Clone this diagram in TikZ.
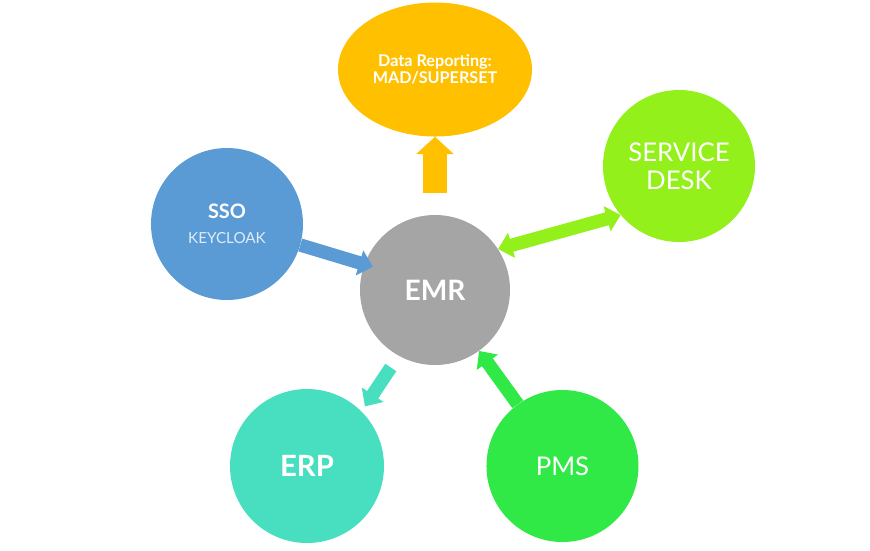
\documentclass[tikz,border=0pt]{standalone}
\usepackage{fontspec}
\setmainfont{Lato}
\usepackage{tikz}
\usetikzlibrary{positioning,shapes.geometric,arrows.meta}
\definecolor{reportgold}{RGB}{255,192,0}
\definecolor{ssoblue}{RGB}{91,155,213}
\definecolor{ssotext}{RGB}{222,236,250}
\definecolor{emrgrey}{RGB}{165,165,165}
\definecolor{desklime}{RGB}{148,240,26}
\definecolor{erpteal}{RGB}{72,223,192}
\definecolor{pmsgreen}{RGB}{48,232,70}
\tikzstyle{bubble} = [circle, minimum size=4.56cm, inner sep=0pt, text=white, align=center]
\tikzstyle{oval} = [ellipse, minimum width=5.82cm, minimum height=4.02cm, inner sep=0pt, text=white, align=center]
\tikzstyle{connect} = [line width=0.4cm, -{Triangle[width=0.76cm,length=0.42cm]}]
\tikzstyle{connectboth} = [line width=0.4cm, {Triangle[width=0.76cm,length=0.42cm]}-{Triangle[width=0.76cm,length=0.42cm]}]
\tikzstyle{connectbig} = [line width=0.72cm, -{Triangle[width=1.1cm,length=0.52cm]}]

\begin{document}
\begin{tikzpicture}[x=0.03cm, y=-0.03cm]
	\useasboundingbox (0,0) rectangle (870,550);
	\node (emr) [bubble, minimum size=4.5cm, fill=emrgrey, font=\fontsize{24}{28}\selectfont\bfseries] at (435,290) {EMR};
	\node (report) [oval, fill=reportgold, above=2.34cm of emr, font=\fontsize{13.8}{15}\selectfont\bfseries] {Data Reporting:\\ MAD/SUPERSET};
	\node (sso) [bubble, fill=ssoblue, font=\fontsize{17}{20}\selectfont] at (227,224) {\textbf{SSO}\\[1pt] {\fontsize{13}{15}\selectfont\color{ssotext}KEYCLOAK}};
	\node (desk) [bubble, fill=desklime, font=\fontsize{22}{24}\selectfont] at (679,166) {SERVICE\\ DESK};
	\node (erp) [bubble, minimum size=4.62cm, fill=erpteal, font=\fontsize{25}{28}\selectfont\bfseries] at (307,466) {ERP};
	\node (pms) [bubble, fill=pmsgreen, right=3.06cm of erp, font=\fontsize{22}{26}\selectfont] {PMS};
	%-----------------------------------------------
	%-----------------------------------------------
	\draw [connectbig, draw=reportgold, shorten <=0.66cm] (emr) -- (report);
	\draw [connect, draw=ssoblue, shorten >=-0.27cm] (sso.344) -- (emr.160);
	\draw [connectboth, draw=desklime] (emr.33) -- (desk.220);
	\draw [connect, draw=erpteal, shorten <=0.42cm, shorten >=0.18cm] (emr.241) -- (erp.45);
	\draw [connect, draw=pmsgreen] (pms) -- (emr);
\end{tikzpicture}
\end{document}
